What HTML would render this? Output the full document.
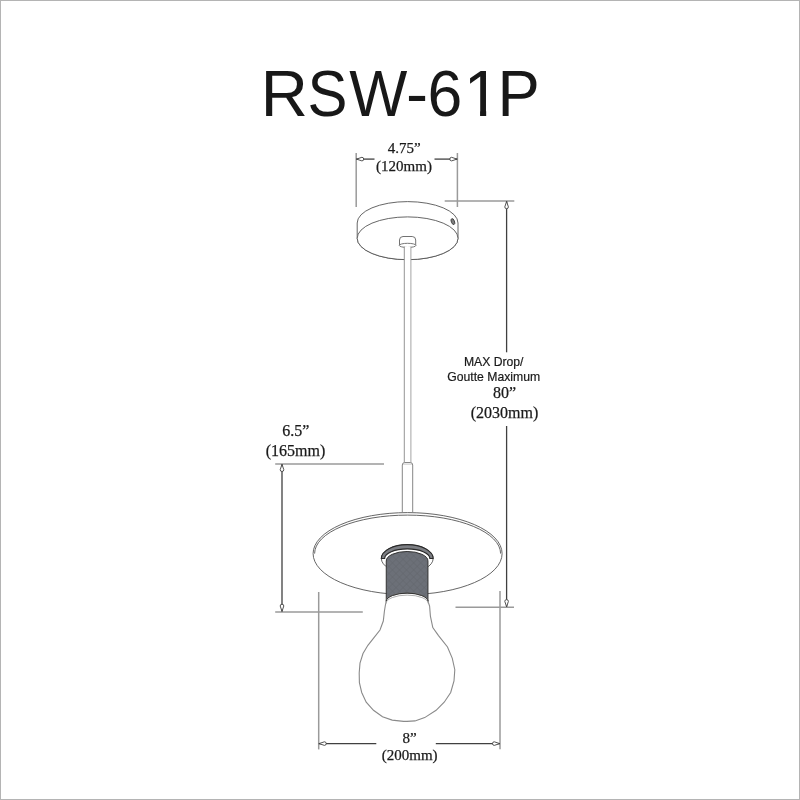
<!DOCTYPE html>
<html>
<head>
<meta charset="utf-8">
<style>
html,body{margin:0;padding:0;background:#fff;}
body{width:800px;height:800px;overflow:hidden;position:relative;}
svg{position:absolute;left:0;top:0;will-change:transform;}
.sans{font-family:"Liberation Sans",sans-serif;}
.serif{font-family:"Liberation Serif",serif;}
</style>
</head>
<body>
<svg width="800" height="800" viewBox="0 0 800 800">
<defs>
  <pattern id="hatch" width="5" height="5" patternUnits="userSpaceOnUse" patternTransform="rotate(45)">
    <rect width="5" height="5" fill="#6c7078"/>
    <line x1="0" y1="0" x2="0" y2="5" stroke="#62656c" stroke-width="1"/>
    <line x1="0" y1="0" x2="5" y2="0" stroke="#62656c" stroke-width="1"/>
  </pattern>
</defs>
<rect width="800" height="800" fill="#fff"/>
<rect x="0.5" y="0.5" width="799" height="799" fill="none" stroke="#b4b4b4" stroke-width="1"/>

<!-- Title -->
<clipPath id="clip1"><rect x="-10" y="-100" width="60" height="94.7"/><rect x="16.3" y="-100" width="6.1" height="110"/></clipPath>
<g class="sans" font-size="65.41" fill="#181818">
  <text transform="translate(260.84 116.3) scale(0.999 1)">R</text>
  <text transform="translate(307.38 116.3) scale(0.916 1)">S</text>
  <text transform="translate(349.13 116.3) scale(0.941 1)">W</text>
  <text transform="translate(406.05 116.3) scale(1.014 1)">-</text>
  <text transform="translate(427.57 116.3) scale(0.956 1)">6</text>
  <text transform="translate(463.77 116.3)" clip-path="url(#clip1)">1</text>
  <text transform="translate(497.55 116.3) scale(0.969 1)">P</text>
</g>

<!-- ===== Extension lines (light gray) ===== -->
<g stroke="#9a9a9a" stroke-width="1.5" fill="none">
  <!-- top dim ext -->
  <line x1="356.2" y1="153" x2="356.2" y2="207"/>
  <line x1="457.4" y1="153" x2="457.4" y2="207"/>
  <!-- right dim ext -->
  <line x1="444.7" y1="201" x2="514.3" y2="201"/>
  <line x1="455.5" y1="607.2" x2="514" y2="607.2"/>
  <!-- left dim ext -->
  <line x1="275.2" y1="463.9" x2="384" y2="463.9"/>
  <line x1="275.2" y1="611.9" x2="362.8" y2="611.9"/>
  <!-- bottom dim ext -->
  <line x1="318.7" y1="592" x2="318.7" y2="749.4"/>
  <line x1="500" y1="591" x2="500" y2="749.2"/>
</g>

<!-- ===== Dimension lines (dark) ===== -->
<g stroke="#404040" stroke-width="1.3" fill="none">
  <line x1="356.2" y1="159.1" x2="374.5" y2="159.1"/>
  <line x1="434.5" y1="159.1" x2="457.4" y2="159.1"/>
  <line x1="506.6" y1="201.2" x2="506.6" y2="352.3"/>
  <line x1="506.6" y1="426" x2="506.6" y2="606.8"/>
  <line x1="282" y1="464.3" x2="282" y2="611.4"/>
  <line x1="318.7" y1="743.6" x2="376.3" y2="743.6"/>
  <line x1="435.8" y1="743.6" x2="500" y2="743.6"/>
</g>
<!-- arrowheads (open) -->
<g stroke="#404040" stroke-width="0.9" fill="#fff">
  <path d="M356.50 159.10 L361.90 157.30 Q363.70 157.30 363.70 159.10 Q363.70 160.90 361.90 160.90 Z"/>
  <path d="M457.00 159.10 L451.60 160.90 Q449.80 160.90 449.80 159.10 Q449.80 157.30 451.60 157.30 Z"/>
  <path d="M506.60 201.50 L508.40 206.90 Q508.40 208.70 506.60 208.70 Q504.80 208.70 504.80 206.90 Z"/>
  <path d="M506.60 606.80 L504.80 601.40 Q504.80 599.60 506.60 599.60 Q508.40 599.60 508.40 601.40 Z"/>
  <path d="M282.00 464.30 L283.80 469.70 Q283.80 471.50 282.00 471.50 Q280.20 471.50 280.20 469.70 Z"/>
  <path d="M282.00 611.40 L280.20 606.00 Q280.20 604.20 282.00 604.20 Q283.80 604.20 283.80 606.00 Z"/>
  <path d="M319.00 743.60 L324.40 741.80 Q326.20 741.80 326.20 743.60 Q326.20 745.40 324.40 745.40 Z"/>
  <path d="M499.70 743.60 L494.30 745.40 Q492.50 745.40 492.50 743.60 Q492.50 741.80 494.30 741.80 Z"/>
</g>

<!-- ===== Canopy ===== -->
<g stroke="#555" stroke-width="0.9" fill="#fff">
  <path d="M357.2 223 A50.4 21.4 0 0 1 458 223 L458 238.3 A50.4 21.4 0 0 1 357.2 238.3 Z"/>
  <ellipse cx="407.6" cy="238.3" rx="50.4" ry="21.4"/>
  <ellipse cx="452.9" cy="221.6" rx="1.6" ry="3.1" fill="#808080" stroke="#3a3a3a" stroke-width="0.8" transform="rotate(-22 452.9 221.6)"/>
</g>
<!-- stem -->
<g stroke="#8a8a8a" stroke-width="0.95" fill="#fff">
  <path d="M399.5 245.4 L399.5 240 Q399.5 236.6 403 236.5 L412.2 236.5 Q415.7 236.6 415.7 240 L415.7 245.4" stroke="#6a6a6a"/>
  <ellipse cx="407.6" cy="245.4" rx="8.3" ry="2.1" stroke="#707070"/>
  <rect x="404.3" y="247" width="6.6" height="215.4" fill="#fff" stroke="none"/>
  <line x1="404.3" y1="246.5" x2="404.3" y2="462.4" stroke="#8e8e8e"/>
  <line x1="410.9" y1="246.5" x2="410.9" y2="462.4" stroke="#a0a0a0"/>
  <path d="M402.3 512 L402.3 465 Q402.3 462.5 404.8 462.5 L410.2 462.5 Q412.7 462.5 412.7 465 L412.7 512" stroke="#808080"/>
  <line x1="403" y1="464.1" x2="412" y2="464.1" stroke="#aaa" stroke-width="0.7"/>
</g>

<!-- ===== Shade ===== -->
<g stroke="#555" stroke-width="0.9" fill="#fff">
  <ellipse cx="407.6" cy="553.6" rx="94.5" ry="41"/>
  <path d="M314.6 553.6 A93 38.5 0 0 1 500.6 553.6" fill="none"/>
</g>

<!-- ===== Socket ===== -->
<g>
  <ellipse cx="407.25" cy="558.5" rx="25.9" ry="13.9" fill="#fff" stroke="#555" stroke-width="0.9"/>
  <path d="M381.35 558.5 A25.9 13.9 0 0 1 433.15 558.5 L429.85 558.5 A22.6 9.6 0 0 0 384.65 558.5 Z" fill="#7c7e83" stroke="#2a2a2a" stroke-width="1.1"/>
  <path d="M386.25 561 A20.85 9.5 0 0 1 427.95 561 L427.95 601.3 A20.85 8.2 0 0 0 386.25 601.3 Z" fill="url(#hatch)" stroke="#333" stroke-width="1"/>
</g>

<!-- ===== Bulb ===== -->
<path d="M386.25 601.3 L385.4 605 L384.4 611.2 L383.3 621 L380 630 L374.4 637.2 L367.9 645.3 L363 653.5 L360 663.2 L359.2 673 L359.4 682.7 L361.7 692.5 L366.2 702.2 L373.5 710.3 L382.5 716.8 L392.2 720.1 L403.6 721.4 L407 721.4 L415 720.9 L424.7 717.6 L436.1 710.3 L444.2 702.2 L450.7 692.5 L454 681 L454.8 669.7 L452.3 658.3 L447.5 647 L438.5 635.6 L432.8 627.5 L430.4 616.1 L429.6 606 L427.95 601.3 A20.85 8.2 0 0 0 386.25 601.3 Z" fill="#fff" stroke="#8a8a8a" stroke-width="1.1"/>
<path d="M427.95 601.3 A20.85 8.2 0 0 0 386.25 601.3" fill="none" stroke="#333" stroke-width="1"/>
<path d="M428.3 603.6 A20.9 8.4 0 0 0 386 603.6" fill="none" stroke="#9a9a9a" stroke-width="0.8"/>

<!-- ===== Text ===== -->
<g class="serif" fill="#1a1a1a" stroke="#1a1a1a" stroke-width="0.25" text-anchor="middle">
  <text x="404.1" y="152.7" font-size="15">4.75”</text>
  <text x="404" y="170.8" font-size="15">(120mm)</text>
  <text x="295.7" y="435.8" font-size="16">6.5”</text>
  <text x="295.5" y="455.5" font-size="16">(165mm)</text>
  <text x="504.6" y="398.3" font-size="16">80”</text>
  <text x="504.5" y="418" font-size="16">(2030mm)</text>
  <text x="409.6" y="742.5" font-size="15">8”</text>
  <text x="409.7" y="760.4" font-size="15">(200mm)</text>
</g>
<g class="sans" fill="#1a1a1a" stroke="#1a1a1a" stroke-width="0.2" text-anchor="middle" font-size="12.2">
  <text x="493.7" y="365.6">MAX Drop/</text>
  <text x="493.7" y="380.6">Goutte Maximum</text>
</g>
</svg>
</body>
</html>
